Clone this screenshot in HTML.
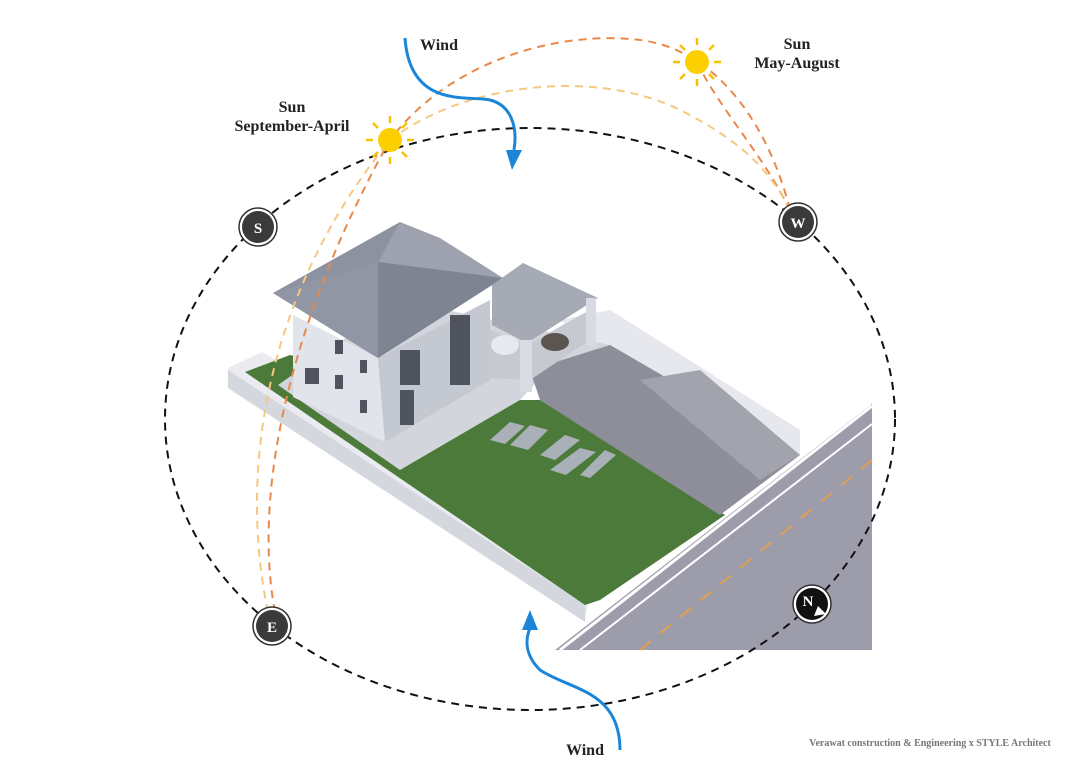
<!DOCTYPE html>
<html><head><meta charset="utf-8"><style>
html,body{margin:0;padding:0;background:#fff;width:1088px;height:768px;overflow:hidden}
text{font-family:"Liberation Serif",serif;font-weight:bold}
</style></head><body>
<svg width="1088" height="768" viewBox="0 0 1088 768" xmlns="http://www.w3.org/2000/svg">
<!-- lot walls -->
<polygon points="228,368 262,352 600,540 585,620 228,388" fill="#e9ebf0"/>
<polygon points="228,370 585,605 585,622 228,388" fill="#d4d7de"/>
<polygon points="560,320 610,310 800,430 800,455 760,465" fill="#e6e8ee"/>
<!-- lawn -->
<polygon points="245,372 290,355 470,400 540,400 725,515 600,600 585,605" fill="#4c7a3a"/>
<!-- paved areas -->
<polygon points="278,385 400,300 610,345 540,378 520,400 400,470" fill="#d3d5dc"/>
<polygon points="530,370 610,345 800,455 720,515 540,400" fill="#8e8e9a"/>
<polygon points="640,380 700,370 800,455 760,480" fill="#a3a3ad"/>
<!-- stepping stones -->
<g fill="#aab0b8"><polygon points="490,440 510,422 525,426 505,444"/><polygon points="510,445 530,425 548,430 528,450"/><polygon points="540,455 565,435 580,440 555,460"/><polygon points="550,470 580,448 596,452 566,475"/><polygon points="580,475 605,450 616,455 590,478"/></g>
<!-- carport floor with cars -->
<polygon points="490,330 527,345 590,310 590,340 530,380 490,378" fill="#c6c9d0"/>
<ellipse cx="505" cy="345" rx="14" ry="10" fill="#e8e9ee"/>
<ellipse cx="555" cy="342" rx="14" ry="9" fill="#5b5550"/>
<!-- house -->
<polygon points="293,315 378,358 385,442 293,397" fill="#e1e4ea"/>
<polygon points="378,358 490,300 490,380 385,442" fill="#c4c8d0"/>
<g fill="#4e535d"><rect x="400" y="350" width="20" height="35"/><rect x="450" y="315" width="20" height="35"/><rect x="450" y="350" width="20" height="35"/><rect x="400" y="390" width="14" height="35"/><rect x="335" y="340" width="8" height="14"/><rect x="335" y="375" width="8" height="14"/><rect x="360" y="360" width="7" height="13"/><rect x="360" y="400" width="7" height="13"/><rect x="305" y="368" width="14" height="16"/></g>
<polygon points="273,293 400,222 503,278 378,358" fill="#8d92a0"/>
<polygon points="400,222 440,238 503,278 378,262" fill="#9ea2ae"/>
<polygon points="378,262 503,278 378,358" fill="#7f8493"/>
<polygon points="273,293 378,262 378,358" fill="#9196a4"/>
<!-- carport roof -->
<polygon points="492,285 523,263 598,298 527,343 492,325" fill="#a6aab4"/>
<rect x="520" y="340" width="12" height="52" fill="#d8dbe2"/>
<rect x="586" y="298" width="10" height="48" fill="#d8dbe2"/>
<!-- road -->
<polygon points="555,650 872,404 872,650" fill="#9c9cab"/>
<line x1="560" y1="650" x2="872" y2="406" stroke="#fff" stroke-width="3"/>
<line x1="580" y1="650" x2="872" y2="424" stroke="#fff" stroke-width="2"/>
<line x1="640" y1="650" x2="872" y2="460" stroke="#e0a050" stroke-width="2" stroke-dasharray="14,12"/>
<!-- ellipse -->
<ellipse cx="530" cy="419" rx="365" ry="291" fill="none" stroke="#111" stroke-width="2" stroke-dasharray="8,6"/>
<!-- sun paths -->
<path d="M275,612 C250,480 300,300 390,140 C450,60 560,30 640,40 C720,50 770,130 790,210" fill="none" stroke="#e8894a" stroke-width="2" stroke-dasharray="8,6"/>
<path d="M697,62 C720,110 760,150 790,210" fill="none" stroke="#e8894a" stroke-width="2" stroke-dasharray="8,6"/>
<path d="M268,612 C240,480 260,300 390,140 C470,80 600,70 680,110 C740,140 770,170 790,210" fill="none" stroke="#f5c880" stroke-width="2" stroke-dasharray="8,6"/>
<!-- suns -->
<g stroke="#f5c400" stroke-width="2.5">
<g transform="translate(390,140)"><line x1="0" y1="-24" x2="0" y2="-17"/><line x1="0" y1="24" x2="0" y2="17"/><line x1="-24" y1="0" x2="-17" y2="0"/><line x1="24" y1="0" x2="17" y2="0"/><line x1="-17" y1="-17" x2="-12" y2="-12"/><line x1="17" y1="17" x2="12" y2="12"/><line x1="-17" y1="17" x2="-12" y2="12"/><line x1="17" y1="-17" x2="12" y2="-12"/></g>
<g transform="translate(697,62)"><line x1="0" y1="-24" x2="0" y2="-17"/><line x1="0" y1="24" x2="0" y2="17"/><line x1="-24" y1="0" x2="-17" y2="0"/><line x1="24" y1="0" x2="17" y2="0"/><line x1="-17" y1="-17" x2="-12" y2="-12"/><line x1="17" y1="17" x2="12" y2="12"/><line x1="-17" y1="17" x2="-12" y2="12"/><line x1="17" y1="-17" x2="12" y2="-12"/></g>
</g>
<circle cx="390" cy="140" r="12" fill="#fcd000"/>
<circle cx="697" cy="62" r="12" fill="#fcd000"/>
<!-- wind -->
<path d="M405,38 C410,110 470,95 490,100 C510,105 518,125 514,150" fill="none" stroke="#1b86d8" stroke-width="3"/>
<polygon points="506,150 522,150 512,170" fill="#1b86d8"/>
<path d="M620,750 C620,690 570,690 540,670 C525,655 525,640 530,628" fill="none" stroke="#1b86d8" stroke-width="3"/>
<polygon points="522,630 538,630 530,610" fill="#1b86d8"/>
<!-- compass nodes -->
<g font-size="15" text-anchor="middle" fill="#fff">
<circle cx="258" cy="227" r="19" fill="#fff" stroke="#333" stroke-width="1.5"/><circle cx="258" cy="227" r="16" fill="#3a3a3a"/><text x="258" y="233">S</text>
<circle cx="272" cy="626" r="19" fill="#fff" stroke="#333" stroke-width="1.5"/><circle cx="272" cy="626" r="16" fill="#3a3a3a"/><text x="272" y="632">E</text>
<circle cx="798" cy="222" r="19" fill="#fff" stroke="#333" stroke-width="1.5"/><circle cx="798" cy="222" r="16" fill="#3a3a3a"/><text x="798" y="228">W</text>
<circle cx="812" cy="604" r="19" fill="#fff" stroke="#333" stroke-width="1.5"/><circle cx="812" cy="604" r="16" fill="#111"/><text x="808" y="606">N</text>
<polygon points="818,606 826,614 814,616" fill="#fff"/>
</g>
<!-- labels -->
<g font-size="16" fill="#222" text-anchor="middle">
<text x="439" y="50">Wind</text>
<text x="797" y="49">Sun</text><text x="797" y="68">May-August</text>
<text x="292" y="112">Sun</text><text x="292" y="131">September-April</text>
<text x="585" y="755">Wind</text>
</g>
<text x="930" y="746" font-family="Liberation Sans,sans-serif" font-size="10" fill="#777" text-anchor="middle">Verawat construction &amp; Engineering x STYLE Architect</text>
</svg>
</body></html>
